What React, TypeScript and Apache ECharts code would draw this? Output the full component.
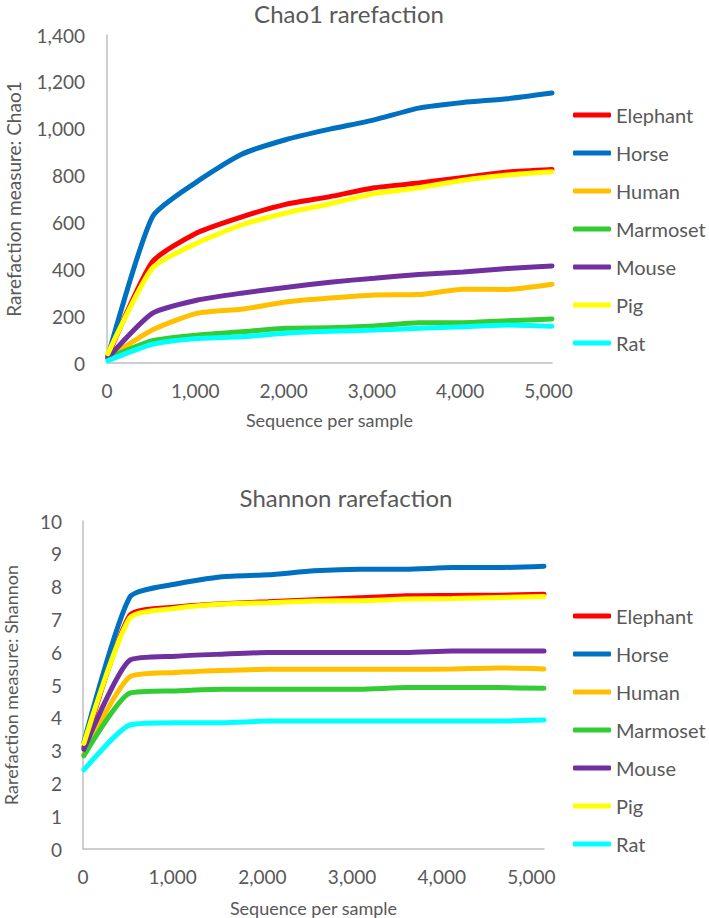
import React, { useEffect, useRef } from "react";
import * as echarts from "echarts";

const seriesNames = ["Elephant", "Horse", "Human", "Marmoset", "Mouse", "Pig", "Rat"];
const seriesColors = ["#FF0000", "#0070C0", "#FFC000", "#33CC33", "#7030A0", "#FFFF00", "#00FFFF"];

const chaoX = [10, 513, 1016, 1519, 2022, 2525, 3028, 3531, 4034, 4537, 5040];
const chaoElephant = [30, 431, 555, 623, 677, 710, 748, 768, 792, 815, 826];
const chaoHorse = [28, 623, 773, 890, 953, 998, 1038, 1088, 1112, 1128, 1152];
const chaoHuman = [22, 141, 212, 229, 260, 277, 290, 292, 315, 314, 336];
const chaoMarmoset = [20, 95, 119, 133, 148, 150, 158, 172, 172, 180, 188];
const chaoMouse = [22, 212, 268, 298, 322, 345, 362, 378, 388, 403, 414];
const chaoPig = [40, 405, 511, 589, 640, 680, 723, 748, 780, 802, 816];
const chaoRat = [10, 80, 105, 112, 127, 135, 141, 148, 155, 162, 157];

const shanX = [10, 523, 1036, 1549, 2062, 2575, 3088, 3601, 4114, 4627, 5140];
const shanElephant = [3.1, 7.13, 7.38, 7.48, 7.54, 7.6, 7.66, 7.72, 7.73, 7.74, 7.77];
const shanHorse = [3.25, 7.68, 8.08, 8.3, 8.36, 8.48, 8.53, 8.53, 8.58, 8.58, 8.62];
const shanHuman = [2.9, 5.25, 5.38, 5.44, 5.48, 5.48, 5.48, 5.48, 5.49, 5.52, 5.49];
const shanMarmoset = [2.84, 4.75, 4.82, 4.87, 4.87, 4.87, 4.87, 4.92, 4.92, 4.92, 4.9];
const shanMouse = [3.04, 5.76, 5.88, 5.94, 5.99, 5.99, 5.99, 5.99, 6.04, 6.04, 6.04];
const shanPig = [3.22, 7.05, 7.34, 7.47, 7.51, 7.56, 7.57, 7.62, 7.64, 7.67, 7.7];
const shanRat = [2.41, 3.78, 3.85, 3.85, 3.9, 3.9, 3.9, 3.9, 3.9, 3.9, 3.93];

const chaoTitle = "Chao1 rarefaction";
const shanTitle = "Shannon rarefaction";
const xTitle = "Sequence per sample";
const chaoYTitle = "Rarefaction measure: Chao1";
const shanYTitle = "Rarefaction measure: Shannon";

const chaoValues = [chaoElephant, chaoHorse, chaoHuman, chaoMarmoset, chaoMouse, chaoPig, chaoRat];
const shanValues = [shanElephant, shanHorse, shanHuman, shanMarmoset, shanMouse, shanPig, shanRat];

const FONT = "Lato, 'Open Sans', sans-serif";
const GREY = "#595959";
const AXIS = "#BFBFBF";

const fmt = (v: number) => (v % 1000 === 0 ? v.toLocaleString("en-US") : "");

export default function App() {
  const ref = useRef<HTMLDivElement>(null);
  useEffect(() => {
    if (!ref.current) return;
    const chart = echarts.init(ref.current, null, { renderer: "svg" });

    const xAxisBase = (max: number) => ({
      type: "value" as const,
      min: 0,
      max,
      interval: 1000,
      axisLine: { show: true, lineStyle: { color: AXIS, width: 1.5 } },
      axisTick: { show: false },
      splitLine: { show: false },
      axisLabel: { color: GREY, fontSize: 19, fontFamily: FONT, margin: 18, formatter: fmt },
      name: xTitle,
      nameLocation: "middle" as const,
      nameTextStyle: { color: GREY, fontSize: 18, fontFamily: FONT },
    });

    const yAxisBase = (
      max: number,
      interval: number,
      name: string,
      gap: number,
      lmargin: number,
      nameSize: number
    ) => ({
      type: "value" as const,
      min: 0,
      max,
      interval,
      axisLine: { show: true, lineStyle: { color: AXIS, width: 1.5 } },
      axisTick: { show: false },
      splitLine: { show: false },
      axisLabel: {
        color: GREY,
        fontSize: 19,
        fontFamily: FONT,
        margin: lmargin,
        formatter: (v: number) => v.toLocaleString("en-US"),
      },
      name,
      nameLocation: "middle" as const,
      nameGap: gap,
      nameTextStyle: { color: GREY, fontSize: nameSize, fontFamily: FONT },
    });

    const mkSeries = (xs: number[], vals: number[][], idx: number) =>
      seriesNames.map((n, i) => ({
        name: n,
        type: "line" as const,
        xAxisIndex: idx,
        yAxisIndex: idx,
        data: xs.map((x, j) => [x, vals[i][j]]),
        symbol: "none",
        smooth: 0.2,
        lineStyle: { width: 5, color: seriesColors[i], cap: "round" },
        itemStyle: { color: seriesColors[i] },
      }));

    const legendBase = (top: number) => ({
      orient: "vertical" as const,
      left: 573,
      top,
      padding: 0,
      itemWidth: 38,
      itemHeight: 5,
      itemGap: 18,
      icon: "roundRect",
      data: seriesNames,
      textStyle: { color: GREY, fontSize: 20, fontFamily: FONT, lineHeight: 20 },
    });

    chart.setOption({
      animation: false,
      backgroundColor: "#ffffff",
      graphic: [
        {
          type: "text",
          x: 349,
          y: 13,
          style: { text: chaoTitle, fill: GREY, font: `24px ${FONT}`, textAlign: "center", textVerticalAlign: "middle" },
        },
        {
          type: "text",
          x: 346,
          y: 497,
          style: { text: shanTitle, fill: GREY, font: `24px ${FONT}`, textAlign: "center", textVerticalAlign: "middle" },
        },
      ],
      grid: [
        { left: 107, right: 157, top: 35, bottom: 555, outerBoundsMode: "none", containLabel: false },
        { left: 83, right: 165, top: 521, bottom: 69, outerBoundsMode: "none", containLabel: false },
      ],
      xAxis: [
        { ...xAxisBase(5040), gridIndex: 0, nameGap: 48 },
        { ...xAxisBase(5140), gridIndex: 1, nameGap: 50 },
      ],
      yAxis: [
        { ...yAxisBase(1400, 200, chaoYTitle, 84, 22, 19), gridIndex: 0 },
        { ...yAxisBase(10, 1, shanYTitle, 63, 21, 18), gridIndex: 1 },
      ],
      legend: [legendBase(105), legendBase(606)],
      series: [...mkSeries(chaoX, chaoValues, 0), ...mkSeries(shanX, shanValues, 1)],
    });

    return () => chart.dispose();
  }, []);

  return (
    <div
      ref={ref}
      style={{ position: "fixed", left: 0, top: 0, width: 709, height: 918, background: "#fff" }}
    />
  );
}
